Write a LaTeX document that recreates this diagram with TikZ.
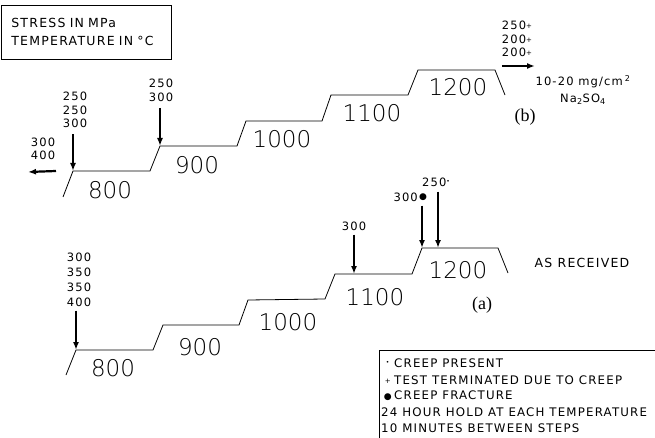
\documentclass[tikz,border=0pt]{standalone}
\usepackage{fontspec}
\newfontfamily\plainfont[LetterSpace=10]{DejaVu Sans}
\newfontfamily\tempfont{DejaVu Sans ExtraLight}
\newfontfamily\tagfont{Liberation Serif}
\usetikzlibrary{arrows.meta, positioning}
\newcommand{\cpres}{\raisebox{2.5pt}{\fontsize{6}{6}\selectfont\textbullet}}
\newcommand{\tplus}{\raisebox{1pt}{\fontsize{7}{7}\selectfont +}}

\begin{document}
\begin{tikzpicture}[
    x=1pt, y=-1pt, >=Latex,
    every node/.style={inner sep=0pt, align=center},
    profile/.style={line width=0.8pt},
    load/.style={-{Latex[length=8pt, width=6pt]}, line width=2.2pt},
    stress/.style={font=\plainfont\fontsize{11.5}{13.5}\selectfont},
    temp/.style={font=\tempfont\fontsize{23}{23}\selectfont},
    note/.style={font=\plainfont\fontsize{11.8}{16}\selectfont, anchor=west},
    tag/.style={font=\tagfont\fontsize{18}{18}\selectfont}
]
\useasboundingbox (0,0) rectangle (655,438);

% units
\node (units) [draw, line width=0.6pt, anchor=north west, minimum width=170pt, minimum height=54pt, text width=150pt, inner xsep=10pt, align=left, font=\plainfont\fontsize{12.5}{18}\selectfont] at (1,5) {STRESS IN MPa\\TEMPERATURE IN °C};

% (b) salt coated
\draw[profile] (63,197) -- (73,171) coordinate (b800) -- (150,171) -- (160,146) coordinate (b900) -- (237,146) -- (246,121) coordinate (b1000) -- (322,121) -- (331,95) coordinate (b1100) -- (408,95) -- (418,70) coordinate (b1200) -- (495,70) -- (505,95);
\node (t800b) [temp] at (110,190) {800};
\node (t900b) [temp] at (197,165) {900};
\node (t1000b) [temp] at (282,139) {1000};
\node (t1100b) [temp] at (372,113) {1100};
\node (t1200b) [temp] at (458,87) {1200};
\node (s800b) [stress] at (75,110) {250\\250\\300};
\node (s900b) [stress] at (161,90.5) {250\\300};
\node (sexit) [stress] at (43,149) {300\\400};
\node (s1200b) [stress] at (517,39) {250\tplus\\200\tplus\\200\tplus};
\coordinate (bleft) at (28,172);
\coordinate (bright) at (535,66);
\draw[load] (s800b.south -| b800) ++(0,6) -- (b800);
\draw[load] (s900b.south -| b900) ++(0,6) -- (b900);
\draw[load] ([xshift=-17pt]b800) -- (bleft);
\draw[load] (s1200b.south west |- bright) -- (bright);
\node (salt) [font=\plainfont\fontsize{11.5}{15}\selectfont] at (583,82) {10-20 mg/cm\,\textsuperscript{2}};
\node (saltname) [below=5pt of salt, font=\plainfont\fontsize{11.5}{15}\selectfont] {Na\textsubscript{2}SO\textsubscript{4}};
\node (tagb) [tag] at (525,117) {(b)};

% (a) as received
\draw[profile] (66,375) -- (76,350) coordinate (a800) -- (153,350) -- (163,325) coordinate (a900) -- (239,325) -- (248,300) coordinate (a1000) -- (325,299) -- (335,274) coordinate (a1100) -- (412,274) -- (422,248) coordinate (a1200) -- (498,248) -- (508,273);
\node (t800a) [temp] at (113,368) {800};
\node (t900a) [temp] at (200,347) {900};
\node (t1000a) [temp] at (288,322) {1000};
\node (t1100a) [temp] at (375,297) {1100};
\node (t1200a) [temp] at (458,270) {1200};
\node (s800a) [stress, font=\plainfont\fontsize{11.5}{15}\selectfont] at (79,279.5) {300\\350\\350\\400};
\node (s1100a) [stress] at (354,226) {300};
\node (s1200a) [stress, anchor=east] at (418,197) {300};
\node (frac) [right=1pt of s1200a, font=\plainfont\fontsize{9}{9}\selectfont] {●};
\node (s1200c) [stress] at (436,182) {250\cpres};
\coordinate (a1100load) at (354,274);
\coordinate (a1200c) at (438,248);
\draw[load] (s800a.south -| a800) ++(0,4) -- (a800);
\draw[load] (s1100a.south -| a1100load) ++(0,4) -- (a1100load);
\draw[load] ([yshift=-5pt]frac.south -| a1200) -- (a1200);
\draw[load] (s1200c.south -| a1200c) ++(0,5) -- (a1200c);
\node (asrec) [font=\plainfont\fontsize{12.5}{15}\selectfont] at (582,263) {AS RECEIVED};
\node (taga) [tag] at (482,305) {(a)};

% legend
\draw[line width=0.6pt] (655,350) -- (379,350) -- (379,438);
\node (leg1) [note] at (381,363) {\makebox[13pt][c]{\cpres}CREEP PRESENT};
\node (leg2) [note] at (381,380) {\makebox[13pt][c]{\tplus}TEST TERMINATED DUE TO CREEP};
\node (leg3) [note] at (381,396) {\makebox[13pt][c]{\fontsize{9}{9}\selectfont ●}CREEP FRACTURE};
\node (leg4) [note] at (381,412) {24 HOUR HOLD AT EACH TEMPERATURE};
\node (leg5) [note] at (381,428) {10 MINUTES BETWEEN STEPS};
\end{tikzpicture}
\end{document}
